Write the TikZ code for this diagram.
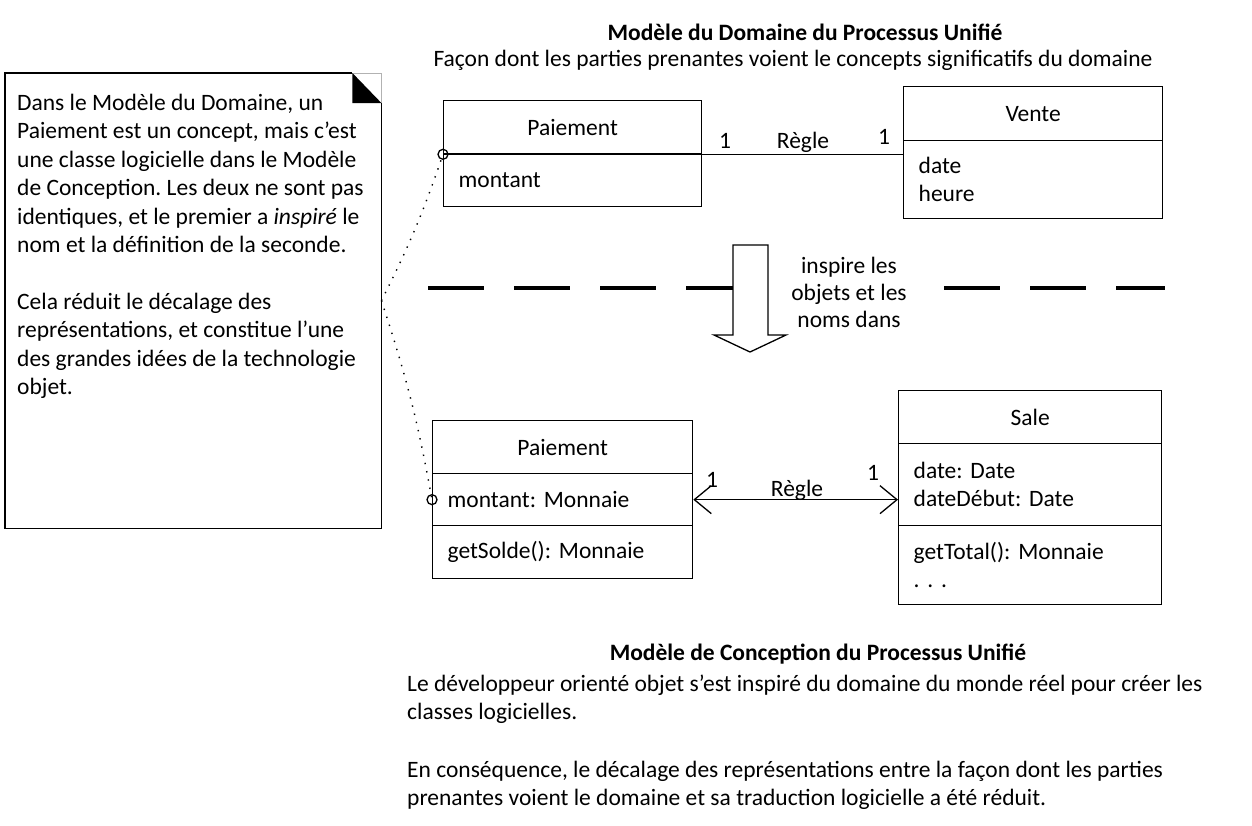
\documentclass[tikz,border=0pt]{standalone}
\usepackage{fontspec}
\setmainfont{Carlito}
\usetikzlibrary{arrows.meta}
\begin{document}
\frenchspacing
\begin{tikzpicture}[x=1pt,y=-1pt,
  every node/.style={font=\fontsize{23.5}{28}\selectfont\frenchspacing, inner sep=0pt},
  lw/.style={line width=1.3pt},
  cname/.style={draw, lw, anchor=north west, align=center},
  ccomp/.style={draw, lw, anchor=north west, align=left, inner xsep=15pt},
  bartips/.style={<->, >={Straight Barb[length=17pt, width=28pt]}},
  linkdots/.style={line width=1.4pt, dash pattern=on 1.4pt off 7pt},
  ring/.style={lw}]
\useasboundingbox (0,0) rectangle (1252,825);

% titles of the two models
\node[font=\fontsize{23.5}{28}\selectfont\bfseries] (dtitle) at (805,32) {Modèle du Domaine du Processus Unifié};
\node (dsub) at (793,60) {Façon dont les parties prenantes voient le concepts significatifs du domaine};

% domain model classes
\node[cname, minimum width=258, minimum height=53] (dpname) at (443,100) {Paiement};
\node[ccomp, text width=228, minimum height=53] (dpattr) at (443,153) {montant};
\node[cname, minimum width=259, minimum height=54] (vname) at (903,86) {Vente};
\node[ccomp, text width=229, minimum height=78] (vattr) at (903,140) {date\\heure};

\draw[lw] (dpname.south west) -- (vattr.west |- dpname.south);
\node (dm1) at (725,141) {1};
\node (dlab) at (803,142) {Règle};
\node (dm2) at (884,137) {1};

% separator, its caption and the inspiration arrow
\draw[line width=3.5pt, dash pattern=on 56pt off 30pt] (428,288) coordinate (sepl) -- (1165,288) coordinate (sepr);
\node[fill=white, align=center, minimum width=164, minimum height=90, font=\fontsize{23.5}{27}\selectfont] (insp) at (849,292) {inspire les\\objets et les\\noms dans};
\draw[lw, fill=white] (733,245) -- (768,245) -- (768,335) -- (786,335) -- (750,352) -- (714,335) -- (733,335) -- cycle;

% design model classes
\node[cname, minimum width=260, minimum height=53] (cpname) at (432,420) {Paiement};
\node[ccomp, text width=230, minimum height=52] (cpattr) at (432,473) {montant:\ Monnaie};
\node[ccomp, text width=230, minimum height=53] (cpops) at (432,525) {getSolde():\ Monnaie};
\node[cname, minimum width=263, minimum height=53] (sname) at (898,390) {Sale};
\node[ccomp, text width=233, minimum height=82] (sattr) at (898,443) {date:\ Date\\dateDébut:\ Date};
\node[ccomp, text width=233, minimum height=79] (sops) at (898,525) {getTotal():\ Monnaie\\. . .};

\draw[lw, bartips] (cpattr.east) -- (sattr.west |- cpattr.east);
\node (cm1) at (712,480) {1};
\node (clab) at (797,490) {Règle};
\node (cm2) at (873,473) {1};

% note with folded corner
\node[minimum width=376, minimum height=455, anchor=north west] (note) at (5,73) {};
\draw[lw] ([xshift=-29pt]note.north east) -- (note.north west) -- (note.south west) -- (note.south east) -- ([yshift=-30pt]note.north east);
\draw[gray!60, line width=0.6pt] ([xshift=-29pt]note.north east) -- (note.north east) -- ([yshift=-30pt]note.north east);
\fill ([xshift=-29pt]note.north east) -- ([xshift=-29pt,yshift=-30pt]note.north east) -- ([yshift=-30pt]note.north east) -- cycle;
\node[anchor=north west, align=left, font=\fontsize{23.5}{28.4}\selectfont] (notetext) at (17,94) {Dans le Modèle du Domaine, un\\Paiement est un concept, mais c’est\\une classe logicielle dans le Modèle\\de Conception.\ Les deux ne sont pas\\identiques, et le premier a \emph{inspiré} le\\nom et la définition de la seconde.\\[28.4pt]Cela réduit le décalage des\\représentations, et constitue l’une\\des grandes idées de la technologie\\objet.};

% dotted links from the note to the two Paiement classes
\draw[linkdots] (note.east) to[bend right=4] (dpname.south west);
\draw[linkdots] (note.east) to[bend left=4] (cpattr.west);
\draw[ring] (dpname.south west) circle (5);
\draw[ring] (cpattr.west) circle (5);

% caption of the design model
\node[font=\fontsize{23.5}{28}\selectfont\bfseries] (ctitle) at (818,654) {Modèle de Conception du Processus Unifié};
\node[anchor=north west, align=left, font=\fontsize{23.5}{27.5}\selectfont] (ctext) at (407,675) {Le développeur orienté objet s’est inspiré du domaine du monde réel pour créer les\\classes logicielles.\\[31pt]En conséquence, le décalage des représentations entre la façon dont les parties\\prenantes voient le domaine et sa traduction logicielle a été réduit.};
\end{tikzpicture}
\end{document}
